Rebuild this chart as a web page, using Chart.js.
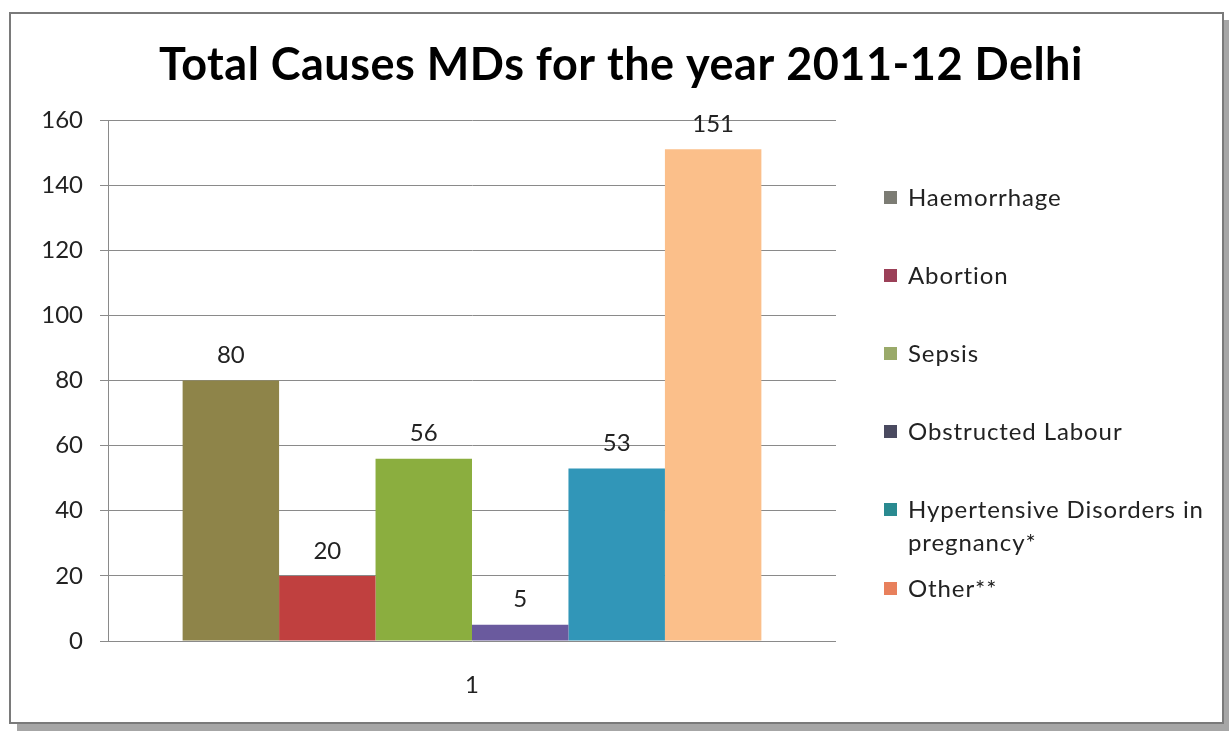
<!DOCTYPE html>
<html>
<head>
<meta charset="utf-8">
<script src="https://cdn.jsdelivr.net/npm/chart.js@4"></script>
<style>
    body { margin: 0; background: #fff; }
    #wrap { position: relative; width: 1229px; height: 731px; overflow: hidden; background: #fff; }
    #frame { position: absolute; left: 9px; top: 12px; width: 1211px; height: 708px; border: 2px solid #7a7a7a; box-shadow: 8px 8px 0 #a6a6a6; background: #fff; }
    #chart { position: absolute; left: 0; top: 0; }
    #legend { position: absolute; left: 884px; top: 0; font-family: Lato, sans-serif; font-size: 24px; color: #222; letter-spacing: 0.9px; }
    .item { position: absolute; left: 0; white-space: nowrap; line-height: 33px; }
    .swatch { position: absolute; left: 0; top: 11px; width: 13px; height: 13px; }
    .label { position: absolute; left: 24px; top: 0; }
</style>
</head>
<body>
<div id="wrap">
    <div id="frame"></div>
    <canvas id="chart" width="1229" height="731"></canvas>
    <div id="legend"></div>
</div>
<script>
// Dados do gráfico
const chartTitle = "Total Causes MDs for the year 2011-12 Delhi";
const categories = ["1"];
const seriesNames = ["Haemorrhage", "Abortion", "Sepsis", "Obstructed Labour", "Hypertensive Disorders in pregnancy*", "Other**"];
const seriesValues = [80, 20, 56, 5, 53, 151];
const yTicks = [0, 20, 40, 60, 80, 100, 120, 140, 160];

const barColors = ["#8e8449", "#c0403f", "#8bae3f", "#6a5a9e", "#3196b8", "#fbbf8a"];
const legendColors = ["#7c7c74", "#9b4058", "#9aaa6a", "#4a4a60", "#2a8a90", "#e8805c"];

// Legenda em HTML (posições verticais)
const legendTops = [180, 258, 336, 414, 492, 571];
const legendLines = [["Haemorrhage"], ["Abortion"], ["Sepsis"], ["Obstructed Labour"], ["Hypertensive Disorders in", "pregnancy*"], ["Other**"]];
const legendEl = document.getElementById("legend");
legendLines.forEach((lines, i) => {
    const item = document.createElement("div");
    item.className = "item";
    item.style.top = legendTops[i] + "px";
    item.innerHTML = '<div class="swatch" style="background:' + legendColors[i] + '"></div>' +
        '<div class="label">' + lines.join("<br>") + '</div>';
    legendEl.appendChild(item);
});

// Título centralizado na figura inteira
const pageTitle = {
    id: "pageTitle",
    afterDraw(chart) {
        const ctx = chart.ctx;
        ctx.save();
        ctx.font = "bold 45px Lato, sans-serif";
        ctx.letterSpacing = "0.5px";
        ctx.fillStyle = "#000";
        ctx.textAlign = "center";
        ctx.textBaseline = "middle";
        ctx.fillText(chartTitle, 621, 65);
        ctx.restore();
    }
};

// Rótulos de valor acima das barras
const valueLabels = {
    id: "valueLabels",
    afterDatasetsDraw(chart) {
        const ctx = chart.ctx;
        ctx.save();
        ctx.font = "24px Lato, sans-serif";
        ctx.fillStyle = "#222";
        ctx.textAlign = "center";
        ctx.textBaseline = "middle";
        chart.data.datasets.forEach((ds, i) => {
            chart.getDatasetMeta(i).data.forEach((bar, j) => {
                ctx.fillText(String(ds.data[j]), bar.x, bar.y - 25);
            });
        });
        ctx.restore();
    }
};

const datasets = seriesNames.map((name, i) => ({
    label: name,
    data: [seriesValues[i]],
    backgroundColor: barColors[i],
    borderWidth: 0,
    categoryPercentage: 0.795,
    barPercentage: 1.0
}));

new Chart(document.getElementById("chart"), {
    type: "bar",
    data: { labels: categories, datasets },
    options: {
        responsive: false,
        animation: false,
        events: [],
        layout: { padding: { left: 30, right: 393, top: 120, bottom: 0 } },
        plugins: {
            legend: { display: false },
            tooltip: { enabled: false },
            title: { display: false }
        },
        scales: {
            x: {
                grid: { display: false, drawTicks: false },
                border: { display: false },
                ticks: { color: "#222", font: { family: "Lato, sans-serif", size: 24 }, padding: 30 },
                afterFit(scale) { scale.height = 90; }
            },
            y: {
                min: 0,
                max: 160,
                afterBuildTicks(scale) { scale.ticks = yTicks.map(v => ({ value: v })); },
                grid: { color: "#8a8a8a", lineWidth: 1, tickLength: 8 },
                border: { display: true, color: "#8a8a8a" },
                ticks: { color: "#222", font: { family: "Lato, sans-serif", size: 24 }, padding: 17 },
                afterFit(scale) { scale.width = 78; }
            }
        }
    },
    plugins: [valueLabels, pageTitle]
});
</script>
</body>
</html>
